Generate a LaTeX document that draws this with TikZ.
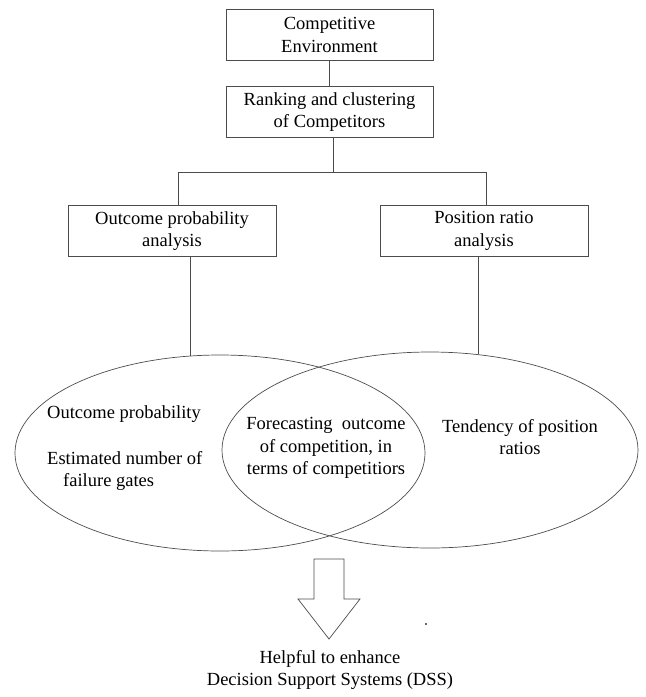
\documentclass[tikz,border=0pt]{standalone}
\usepackage{fontspec}
\setmainfont{Liberation Serif}
\newfontfamily\tnr{Liberation Serif}
\usetikzlibrary{shapes.geometric}
\begin{document}
\begin{tikzpicture}[x=1pt,y=-1pt,
  every node/.style={font=\tnr\fontsize{18.5}{22.5}\selectfont, text=black},
  box/.style={draw=black!70, line width=0.7pt, rectangle, inner sep=0pt, minimum width=207pt, minimum height=51pt, align=center},
  oval/.style={draw=black!70, line width=0.7pt, ellipse, inner sep=0pt},
  link/.style={draw=black!70, line width=0.7pt},
  txt/.style={inner sep=0pt, align=center}]
\useasboundingbox (0,0) rectangle (646,697);
% boxes
\node[box] (env) at (329.5,35) {Competitive\\Environment};
\node[box] (rank) at (329.5,112) {Ranking and clustering\\of Competitors};
\node[box, minimum width=208pt] (opa) at (172,231) {Outcome probability\\analysis};
\node[box, minimum width=208pt] (pra) at (484,231) {Position ratio\\analysis};
% ellipses
\node[oval, minimum width=410pt, minimum height=196pt] (e1) at (220,453) {};
\node[oval, minimum width=416pt, minimum height=196pt] (e2) at (430,450) {};
% connectors
\coordinate (split) at (333,172);
\coordinate (lft) at (178,172);
\coordinate (rgt) at (486,172);
\draw[link] (env.south) -- (rank.south |- env.south) -- (rank.north);
\draw[link] (rank.south -| split) -- (split);
\draw[link] (lft) -- (rgt);
\draw[link] (lft) -- (lft |- opa.north);
\draw[link] (rgt) -- (rgt |- pra.north);
\draw[link] (e1.107) -- (e1.107 |- opa.south);
\draw[link] (e2.63) -- (e2.63 |- pra.south);
% ellipse texts
\node[txt, anchor=west] (t1) at (47,414) {Outcome probability};
\node[txt, anchor=west, align=left] (t2) at (47,471) {Estimated number of\\\hspace{16pt}failure gates};
\node[txt] (t3) at (326,448) {Forecasting\ \ outcome\\of competition, in\\terms of competitiors};
\node[txt] (t4) at (520,437) {Tendency of position\\ratios};
% block arrow
\draw[link, fill=white] (314,559) -- (344,559) -- (344,599) -- (360,599) -- (329,639) -- (298,599) -- (314,599) -- cycle;
\fill[black!80] (426,624) circle (1.1pt);
\node[txt] (dss) at (330,670) {Helpful to enhance\\Decision Support Systems (DSS)};
\end{tikzpicture}
\end{document}
